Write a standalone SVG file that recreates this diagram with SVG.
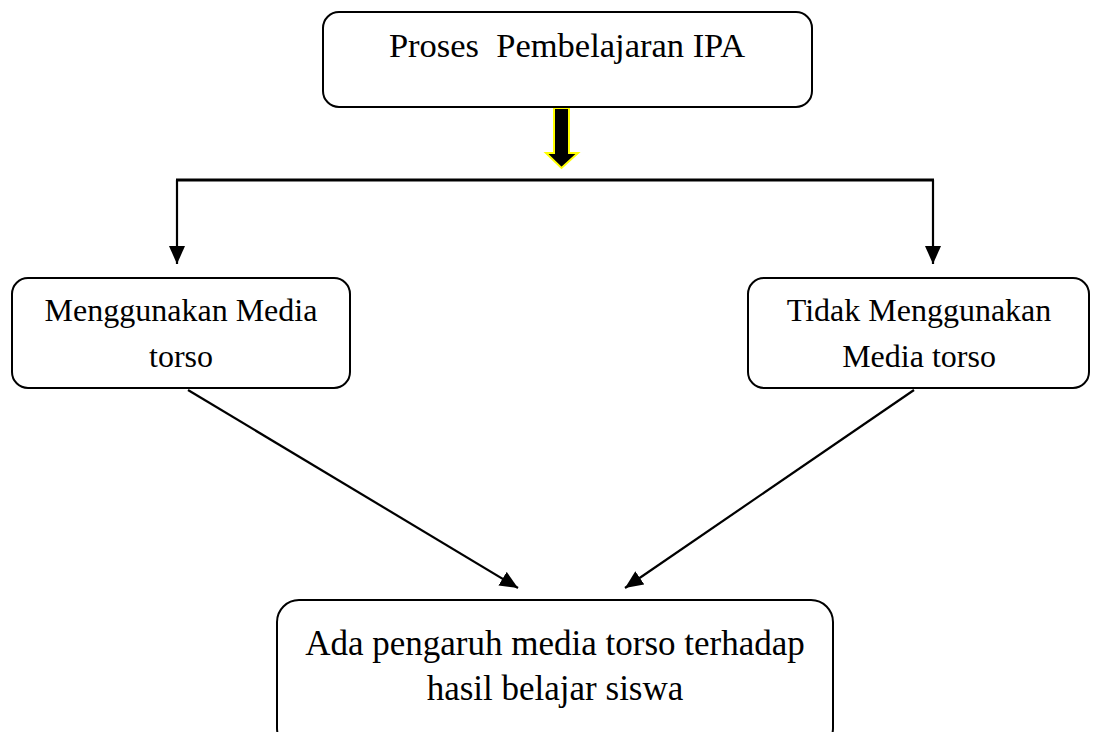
<svg xmlns="http://www.w3.org/2000/svg" width="1098" height="732" viewBox="0 0 1098 732">
<style>
.box{fill:#fff;stroke:#000;stroke-width:2}
.t{font-family:"Liberation Serif","Times New Roman",serif;fill:#000;text-anchor:middle}
.ln{stroke:#000;stroke-width:2.2;fill:none}
</style>
<defs>
<marker id="ah2" viewBox="0 0 10 10" refX="10" refY="5" markerWidth="18" markerHeight="16" markerUnits="userSpaceOnUse" orient="auto" preserveAspectRatio="none">
<path d="M0,0 L10,5 L0,10 Z" fill="#000"/>
</marker>
</defs>
<rect width="1098" height="732" fill="#fff"/>
<g id="connectors">
<polygon points="554,108 569,108 569,153 578,153 561.5,168 546,153 554,153" fill="#000" stroke="#ffff00" stroke-width="2"/>
<line x1="176" y1="180" x2="934" y2="180" stroke="#000" stroke-width="3"/>
<line class="ln" x1="177" y1="180" x2="177" y2="264" marker-end="url(#ah2)"/>
<line class="ln" x1="933" y1="180" x2="933" y2="264" marker-end="url(#ah2)"/>
<line class="ln" x1="188" y1="390" x2="518" y2="588" marker-end="url(#ah2)"/>
<line class="ln" x1="914" y1="390" x2="625" y2="588" marker-end="url(#ah2)"/>
</g>
<g id="node-proses">
<rect class="box" x="323" y="12" width="489" height="95" rx="16"/>
<text class="t" x="567" y="57" font-size="34.5" xml:space="preserve" style="white-space:pre">Proses  Pembelajaran IPA</text>
</g>
<g id="node-menggunakan">
<rect class="box" x="12" y="278" width="338" height="110" rx="16"/>
<text class="t" x="181" y="321" font-size="32">Menggunakan Media</text>
<text class="t" x="181" y="367" font-size="32">torso</text>
</g>
<g id="node-tidak">
<rect class="box" x="748" y="278" width="341" height="110" rx="16"/>
<text class="t" x="919" y="321" font-size="32">Tidak Menggunakan</text>
<text class="t" x="919" y="367" font-size="32">Media torso</text>
</g>
<g id="node-hasil">
<rect class="box" x="277" y="600" width="556" height="150" rx="22"/>
<text class="t" x="555" y="655" font-size="35">Ada pengaruh media torso terhadap</text>
<text class="t" x="555" y="700" font-size="35">hasil belajar siswa</text>
</g>
</svg>
